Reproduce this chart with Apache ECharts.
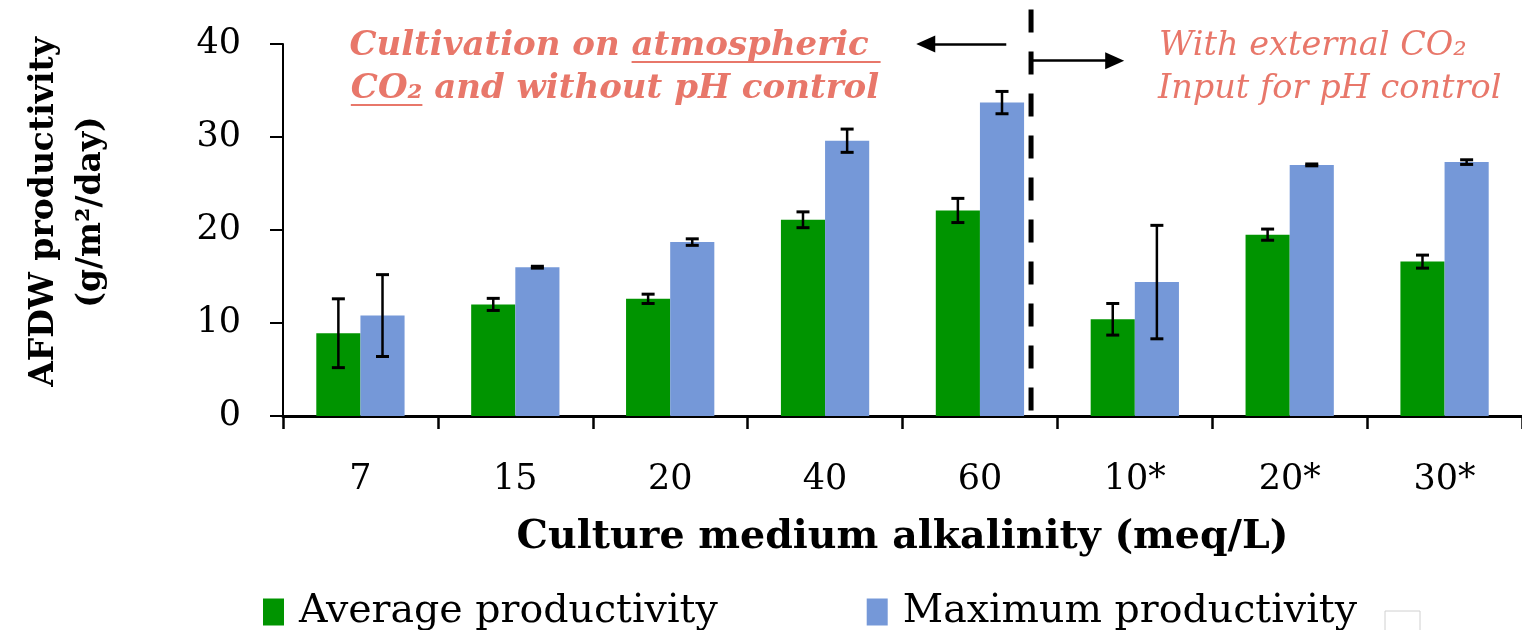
<!DOCTYPE html>
<html><head><meta charset="utf-8">
<script src="https://cdn.jsdelivr.net/npm/echarts@6/dist/echarts.min.js"></script>
<style>html,body{margin:0;padding:0;background:#fff}#c{width:1522px;height:630px}</style>
</head><body><div id="c"></div>
<script>
const categories = ['7','15','20','40','60','10*','20*','30*'];
const avgValues = [8.9, 12.0, 12.6, 21.1, 22.1, 10.4, 19.5, 16.6];
const avgErrors = [3.7, 0.65, 0.5, 0.85, 1.3, 1.7, 0.6, 0.7];
const maxValues = [10.8, 16.0, 18.7, 29.6, 33.7, 14.4, 27.0, 27.3];
const maxErrors = [4.4, 0.1, 0.35, 1.25, 1.2, 6.1, 0.1, 0.25];
const seriesNames = ['Average productivity', 'Maximum productivity'];
const yAxisName = 'AFDW productivity\n(g/m\u00B2/day)';
const xAxisName = 'Culture medium alkalinity (meq/L)';
const leftNote = ['Cultivation on ', 'atmospheric ', 'CO\u2082', ' and without pH control'];
const rightNote = ['With external CO\u2082', 'Input for pH control'];
// divider position (in category-index units) and arrow positions
const dividerX = 4.33;
const dividerY = [0.6, 43.8];
const leftArrow = [[4.17, 40.0], [3.65, 40.0]];
const rightArrow = [[4.33, 38.2], [4.87, 38.2]];

const FONT = '"DejaVu Serif", serif';
const GREEN = '#009400';
const BLUE = '#7598D8';
const NOTE = '#E8776A';

const chart = echarts.init(document.getElementById('c'), null, {renderer: 'canvas'});

function errRender(offsetFrac) {
  return function (params, api) {
    const i = api.value(0);
    const lo = api.coord([i, api.value(1)]);
    const hi = api.coord([i, api.value(2)]);
    const band = api.size([1, 0])[0];
    const x = lo[0] + band * offsetFrac;
    const cap = 6.5;
    const st = {stroke: '#000', lineWidth: 2.5};
    const cs = {stroke: '#000', lineWidth: 3};
    return {type: 'group', children: [
      {type: 'line', shape: {x1: x, y1: hi[1], x2: x, y2: lo[1]}, style: st},
      {type: 'line', shape: {x1: x - cap, y1: hi[1], x2: x + cap, y2: hi[1]}, style: cs},
      {type: 'line', shape: {x1: x - cap, y1: lo[1], x2: x + cap, y2: lo[1]}, style: cs}
    ]};
  };
}

const gapFrac = 0.43;
const halfBar = (1 - gapFrac) / 4;

const ctx = document.createElement('canvas').getContext('2d');
function tw(text, font) { ctx.font = font; return ctx.measureText(text).width; }

const f1 = 'italic bold 34px ' + FONT;
const f2 = 'italic 33.5px ' + FONT;
const cx1 = 615;
const l1 = leftNote[0] + leftNote[1];
const l2 = leftNote[2] + leftNote[3];
const s1 = cx1 - tw(l1, f1) / 2;
const s2 = cx1 - tw(l2, f1) / 2;
const u1a = s1 + tw(leftNote[0], f1), u1b = s1 + tw(l1, f1);
const u2a = s2, u2b = s2 + tw(leftNote[2], f1);

function txt(x, y, text, font) {
  return {type: 'text', style: {x: x, y: y, text: text, font: font, fill: NOTE, align: 'left', verticalAlign: 'middle'}};
}
const graphics = [
  txt(s1, 46, l1, f1),
  txt(s2, 89, l2, f1),
  {type: 'line', shape: {x1: u1a, y1: 62, x2: u1b, y2: 62}, style: {stroke: NOTE, lineWidth: 2}},
  {type: 'line', shape: {x1: u2a, y1: 105, x2: u2b, y2: 105}, style: {stroke: NOTE, lineWidth: 2}},
  txt(1159, 46, rightNote[0], f2),
  txt(1158, 89, rightNote[1], f2),
  {type: 'rect', shape: {x: 1385, y: 611, width: 35, height: 25}, style: {fill: '#fff', stroke: '#d0d0d0', lineWidth: 1}}
];

const option = {
  animation: false,
  backgroundColor: '#fff',
  grid: {left: 283, right: -5, top: 44, bottom: 214, containLabel: false},
  legend: {
    data: seriesNames,
    left: 258, top: 587,
    itemWidth: 21, itemHeight: 27, itemGap: 149,
    icon: 'rect',
    textStyle: {fontFamily: FONT, fontSize: 39.5, color: '#000', padding: [0, 0, 0, 10]}
  },
  xAxis: [{
    type: 'category', data: categories,
    axisLine: {lineStyle: {color: '#000', width: 3}},
    axisTick: {show: true, length: 13, lineStyle: {color: '#000', width: 2.5}},
    axisLabel: {fontFamily: FONT, fontSize: 35, color: '#000', margin: 46},
    name: xAxisName, nameLocation: 'middle', nameGap: 102,
    nameTextStyle: {fontFamily: FONT, fontSize: 39.5, fontWeight: 'bold', color: '#000'}
  }, {
    type: 'value', min: -0.5, max: 7.5, show: false
  }],
  yAxis: {
    type: 'value', min: 0, max: 40, interval: 10,
    splitLine: {show: false},
    axisLine: {show: true, onZero: false, lineStyle: {color: '#000', width: 2}},
    axisTick: {show: true, length: 13, lineStyle: {color: '#000', width: 2}},
    axisLabel: {fontFamily: FONT, fontSize: 35, color: '#000', margin: 42},
    name: yAxisName, nameLocation: 'middle', nameGap: 168,
    nameTextStyle: {fontFamily: FONT, fontSize: 33, fontWeight: 'bold', color: '#000', lineHeight: 47, padding: [0, 0, 0, 36]}
  },
  series: [
    {name: seriesNames[0], type: 'bar', data: avgValues, barGap: '0%', barCategoryGap: (gapFrac * 100) + '%', itemStyle: {color: GREEN}},
    {name: seriesNames[1], type: 'bar', data: maxValues, barGap: '0%', barCategoryGap: (gapFrac * 100) + '%', itemStyle: {color: BLUE}},
    {type: 'custom', renderItem: errRender(-halfBar), z: 5,
     data: avgValues.map((v, i) => [i, v - avgErrors[i], v + avgErrors[i]]), encode: {x: 0, y: [1, 2]}},
    {type: 'custom', renderItem: errRender(halfBar), z: 5,
     data: maxValues.map((v, i) => [i, v - maxErrors[i], v + maxErrors[i]]), encode: {x: 0, y: [1, 2]}},
    {type: 'line', xAxisIndex: 1, data: [[dividerX, dividerY[0]], [dividerX, dividerY[1]]],
     symbol: 'none', clip: false, silent: true, z: 6,
     lineStyle: {color: '#000', width: 5, type: [23, 19], cap: 'butt'},
     markLine: {
       silent: true, symbol: ['none', 'triangle'], symbolSize: [17, 19],
       label: {show: false},
       lineStyle: {color: '#000', width: 2.5, type: 'solid'},
       data: [
         [{coord: leftArrow[0]}, {coord: leftArrow[1]}],
         [{coord: rightArrow[0]}, {coord: rightArrow[1]}]
       ]
     }}
  ],
  graphic: graphics
};
chart.setOption(option);
</script></body></html>
